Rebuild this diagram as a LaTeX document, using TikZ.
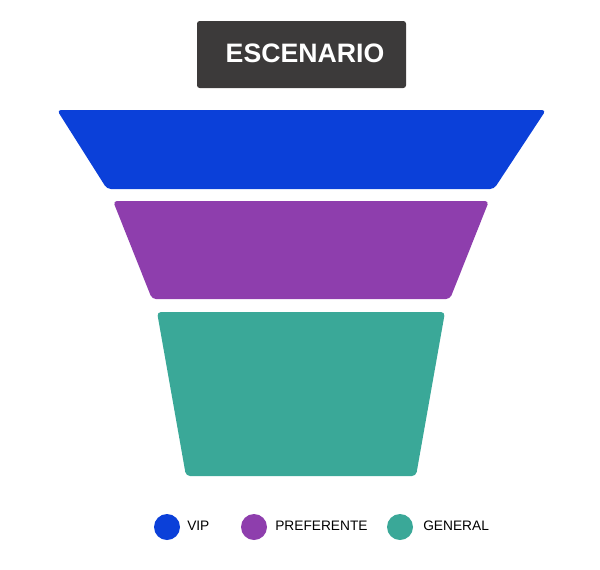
\documentclass[tikz,border=0pt]{standalone}
\usepackage{fontspec}
\setmainfont{Liberation Sans}
\definecolor{vipblue}{RGB}{11,64,217}
\definecolor{prefpurple}{RGB}{142,62,173}
\definecolor{gengreen}{RGB}{58,168,152}
\definecolor{stagegray}{RGB}{60,58,58}
\tikzset{
  zone/.style={rounded corners=3pt, draw=none},
  dot/.style={circle, minimum size=19.5pt, inner sep=0pt},
  lbl/.style={anchor=west, inner sep=0.75pt, font=\fontsize{10.3}{12}\selectfont},
}
\begin{document}
\begin{tikzpicture}[x=0.75pt,y=0.75pt,yscale=-1,xscale=1]
\useasboundingbox (0,0) rectangle (600,569);
%Shape: Rectangle [stage]
\draw [fill=stagegray, draw=none, rounded corners=2pt] (197,21) rectangle (406,88);
% Text Node
\node (stage) [text=white, inner sep=0.75pt, font=\fontsize{20}{22}\bfseries] at (305,53) {ESCENARIO};
%Shape: Trapezoid [vip]
\fill [vipblue, zone] (57,110) -- (546,110) -- (494,189) -- (107,189) -- cycle;
%Shape: Trapezoid [preferente]
\fill [prefpurple, zone] (113,201) -- (489,201) -- (450,299) -- (152,299) -- cycle;
%Shape: Trapezoid [general]
\fill [gengreen, zone] (157,312) -- (445,312) -- (416,476) -- (186,476) -- cycle;

% Legend
\node (dotvip) [dot, fill=vipblue] at (167,527) {};
\node (txtvip) [lbl] at (186,526) {VIP};
\node (dotpref) [dot, fill=prefpurple] at (254,527) {};
\node (txtpref) [lbl] at (274,526) {PREFERENTE};
\node (dotgen) [dot, fill=gengreen] at (400,527) {};
\node (txtgen) [lbl] at (422,526) {GENERAL};
\end{tikzpicture}
\end{document}
